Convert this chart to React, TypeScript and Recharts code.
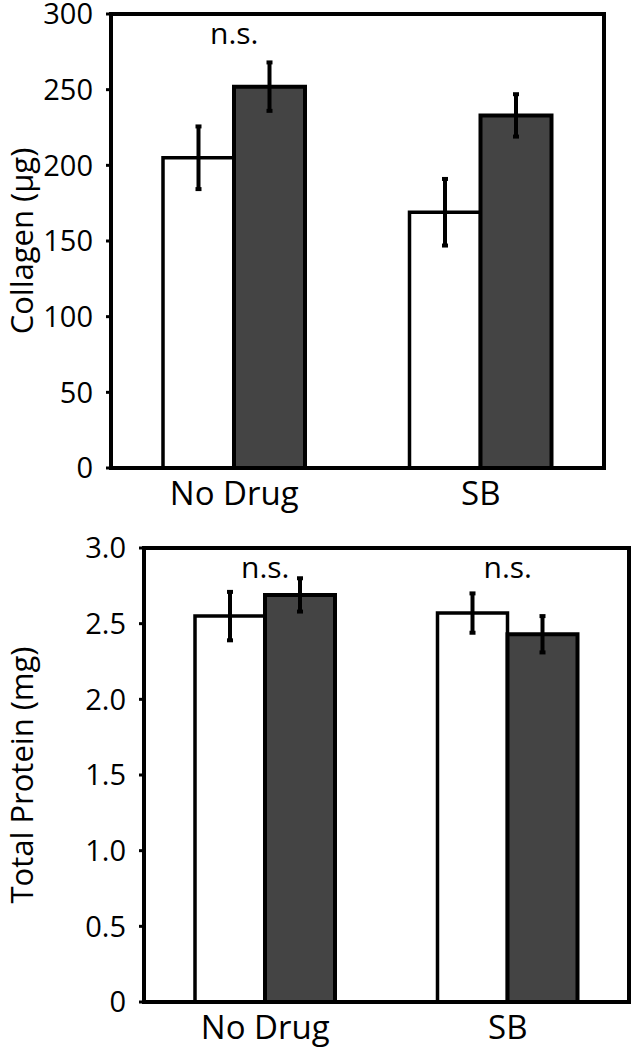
import { Bar, BarChart, ErrorBar, ReferenceArea, ReferenceDot, XAxis, YAxis } from "recharts"

const groups = ["No Drug", "SB"]

const collagenCtrl = [205, 169]
const collagenCtrlErr = [20.7, 22]
const collagenDrug = [252, 233]
const collagenDrugErr = [16, 14]
const collagenTicks = [0, 50, 100, 150, 200, 250, 300]
const collagenNs = ["No Drug"]

const proteinCtrl = [2.55, 2.57]
const proteinCtrlErr = [0.16, 0.13]
const proteinDrug = [2.69, 2.43]
const proteinDrugErr = [0.11, 0.12]
const proteinTicks = [0, 0.5, 1.0, 1.5, 2.0, 2.5, 3.0]
const proteinNs = ["No Drug", "SB"]

const font = "'Open Sans', sans-serif"
const tickStyle = { fontSize: 29, fill: "#000", fontFamily: font }
const xTickStyle = { fontSize: 33, fill: "#000", fontFamily: font }

function rows(ctrl: number[], ctrlErr: number[], drug: number[], drugErr: number[]) {
  return groups.map((g, i) => ({ group: g, ctrl: ctrl[i], ctrlErr: ctrlErr[i], drug: drug[i], drugErr: drugErr[i] }))
}

function Panel({
  data,
  ticks,
  ns,
  label,
  fmt,
  height,
  margin,
  yWidth,
  barSize,
  labelOffset,
}: any) {
  const max = ticks[ticks.length - 1]
  return (
    <BarChart width={632} height={height} data={data} margin={margin} barGap={0} barSize={barSize}>
      <XAxis
        dataKey="group"
        tick={xTickStyle}
        tickLine={false}
        tickSize={0}
        tickMargin={14}
        height={45}
        axisLine={{ stroke: "#000", strokeWidth: 4 }}
      />
      <YAxis
        type="number"
        domain={[0, max]}
        ticks={ticks}
        interval={0}
        tickFormatter={fmt}
        tick={tickStyle}
        tickSize={5}
        tickMargin={13}
        width={yWidth}
        tickLine={{ stroke: "#000", strokeWidth: 3 }}
        axisLine={{ stroke: "#000", strokeWidth: 4 }}
        label={{
          value: label,
          angle: -90,
          position: "insideLeft",
          offset: labelOffset,
          style: { textAnchor: "middle", fontSize: 31, fill: "#000", fontFamily: font },
        }}
      />
      <Bar dataKey="ctrl" fill="#fff" stroke="#000" strokeWidth={3.5} isAnimationActive={false}>
        <ErrorBar dataKey="ctrlErr" width={3} strokeWidth={4} stroke="#000" />
      </Bar>
      <Bar dataKey="drug" fill="#444" stroke="#000" strokeWidth={4} isAnimationActive={false}>
        <ErrorBar dataKey="drugErr" width={3} strokeWidth={4} stroke="#000" />
      </Bar>
      <ReferenceArea y1={0} y2={max} fill="none" stroke="#000" strokeWidth={4} fillOpacity={0} ifOverflow="visible" />
      {ns.map((g: string) => (
        <ReferenceDot
          key={g}
          x={g}
          y={max * 0.958}
          r={0}
          stroke="none"
          ifOverflow="visible"
          label={{ value: "n.s.", position: "center", fontSize: 30, fill: "#000", fontFamily: font }}
        />
      ))}
    </BarChart>
  )
}

export default function App() {
  return (
    <div style={{ position: "absolute", left: 0, top: 0, width: 632, height: 1050, background: "#fff" }}>
      <Panel
        data={rows(collagenCtrl, collagenCtrlErr, collagenDrug, collagenDrugErr)}
        ticks={collagenTicks}
        ns={collagenNs}
        label="Collagen (μg)"
        fmt={(v: number) => String(v)}
        height={515}
        margin={{ top: 14, right: 28, left: 0, bottom: 2 }}
        yWidth={111}
        barSize={71}
        labelOffset={22}
      />
      <Panel
        data={rows(proteinCtrl, proteinCtrlErr, proteinDrug, proteinDrugErr)}
        ticks={proteinTicks}
        ns={proteinNs}
        label="Total Protein (mg)"
        fmt={(v: number) => (v === 0 ? "0" : v.toFixed(1))}
        height={535}
        margin={{ top: 33, right: 3, left: 0, bottom: 3 }}
        yWidth={144}
        barSize={70}
        labelOffset={22}
      />
    </div>
  )
}
